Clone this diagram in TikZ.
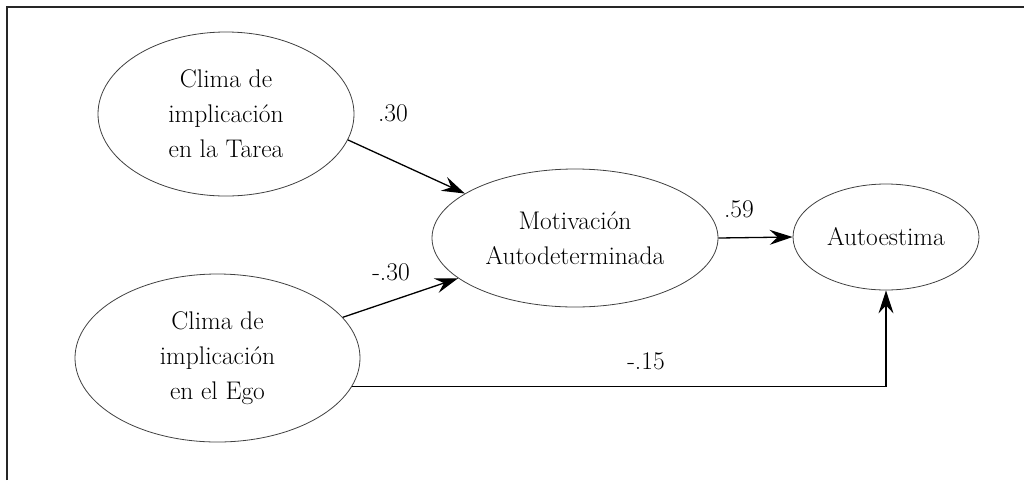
\documentclass[tikz,border=0pt]{standalone}
\usepackage{fontspec}
\usetikzlibrary{shapes.geometric,arrows.meta}
\begin{document}
\begin{tikzpicture}[x=1pt,y=-1pt,
  latent/.style={ellipse,draw=black!75,line width=0.8pt,inner sep=0pt,align=center,
    font=\fontsize{25.5}{35}\selectfont},
  path/.style={line width=1.3pt,-{Stealth[length=23pt,width=15pt,inset=8pt]}},
  coef/.style={font=\fontsize{25.5}{30}\selectfont,inner sep=0pt}]
\useasboundingbox (0,0) rectangle (1024,480);
\draw[line width=1.6pt,black!85] (7,480) -- (7,7) -- (1024,7);
\node[latent,minimum width=256pt,minimum height=164pt] (tarea) at (226,114) {Clima de\\implicación\\en la Tarea};
\node[latent,minimum width=285pt,minimum height=168pt] (ego) at (217.5,358) {Clima de\\implicación\\en el Ego};
\node[latent,minimum width=286pt,minimum height=138pt] (mot) at (575,238) {Motivación\\Autodeterminada};
\node[latent,minimum width=186pt,minimum height=106pt] (auto) at (886,237) {Autoestima};
\draw[path] (tarea.-12) -- (mot.158.5);
\draw[path] (ego.18) -- (mot.-161);
\draw[path] (mot.east) -- (auto.west);
\draw[path] (ego.-12.7) -| (auto.south);
\node[coef] (c1) at (393,113) {.30};
\node[coef] (c2) at (391,272) {-.30};
\node[coef] (c3) at (739,209) {.59};
\node[coef] (c4) at (646,361) {-.15};
\end{tikzpicture}
\end{document}
